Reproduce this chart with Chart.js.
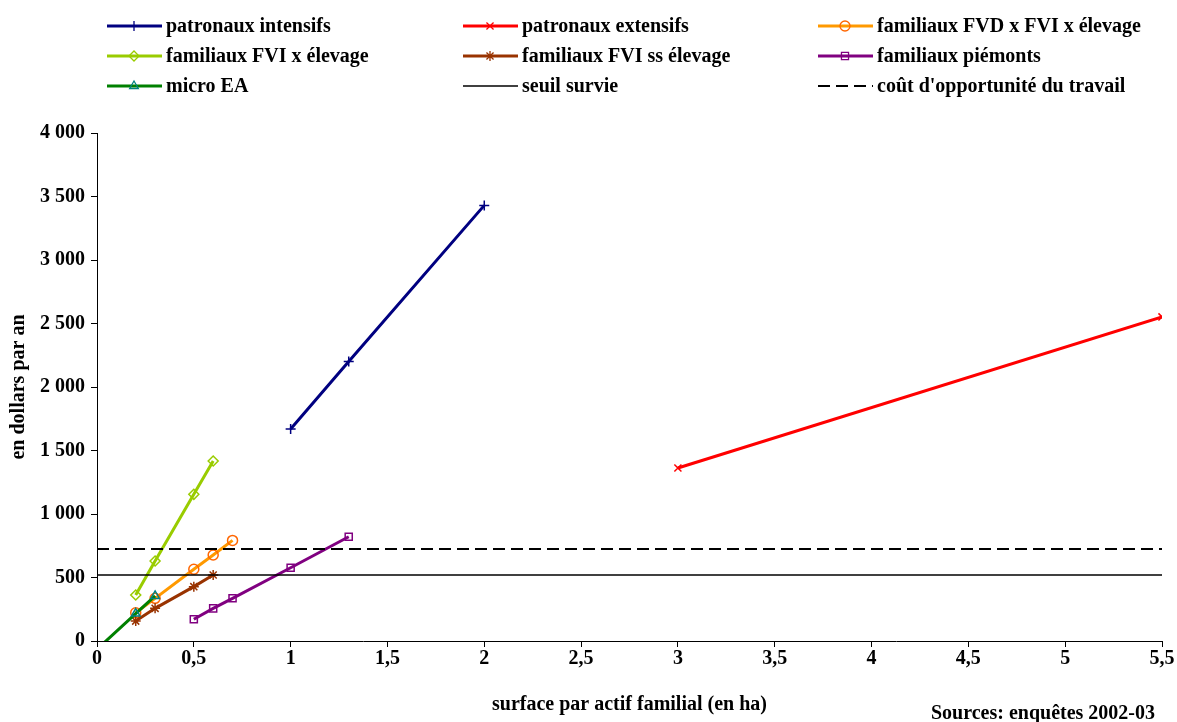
<!DOCTYPE html>
<html>
<head>
<meta charset="utf-8">
<script src="https://cdn.jsdelivr.net/npm/chart.js@4/dist/chart.umd.min.js"></script>
<style>
  body { margin: 0; background: #fff; }
  #wrap { width: 1177px; height: 722px; }
</style>
</head>
<body>
<div id="wrap"><canvas id="graph" width="1177" height="722"></canvas></div>
<script>
// surface par actif familial (ha) / revenu (dollars par an)
const intensifsX = [1, 1.3, 2];
const intensifsY = [1670, 2200, 3430];
const extensifsX = [3, 5.5];
const extensifsY = [1362, 2552];
const fvdX = [0.2, 0.3, 0.5, 0.6, 0.7];
const fvdY = [222, 336, 565, 677, 792];
const fviElevX = [0.2, 0.3, 0.5, 0.6];
const fviElevY = [362, 630, 1155, 1417];
const fviSsX = [0.2, 0.3, 0.5, 0.6];
const fviSsY = [157, 257, 428, 520];
const piemontsX = [0.5, 0.6, 0.7, 1, 1.3];
const piemontsY = [171, 257, 336, 577, 821];
const microX = [0, 0.2, 0.3];
const microY = [-65, 216, 355];
const seuilX = [0, 5.5];
const seuilY = [520, 520];
const coutX = [0, 5.5];
const coutY = [725, 725];

const FONT = "'Liberation Serif', 'Times New Roman', serif";

function pts(xs, ys) {
  return xs.map((x, i) => ({ x: x, y: ys[i] }));
}

function series(label, xs, ys, color, markColor, style, order) {
  return {
    label: label,
    data: pts(xs, ys),
    borderColor: color,
    borderWidth: 3,
    pointStyle: style,
    pointRadius: style ? 5 : 0,
    pointBorderColor: markColor,
    pointBackgroundColor: 'rgba(0,0,0,0)',
    pointBorderWidth: 1.5,
    order: order,
    clip: 0
  };
}

const datasets = [
  series('patronaux intensifs', intensifsX, intensifsY, '#000080', '#000080', 'cross', 9),
  series('patronaux extensifs', extensifsX, extensifsY, '#ff0000', '#ff0000', 'crossRot', 8),
  series('familiaux FVD x FVI x élevage', fvdX, fvdY, '#ff9900', '#ff6600', 'circle', 7),
  series('familiaux FVI x élevage', fviElevX, fviElevY, '#99cc00', '#99cc00', 'rectRot', 6),
  series('familiaux FVI ss élevage', fviSsX, fviSsY, '#993300', '#993300', 'star', 5),
  series('familiaux piémonts', piemontsX, piemontsY, '#800080', '#800080', 'rect', 4),
  series('micro EA', microX, microY, '#008000', '#008080', 'triangle', 3),
  series('seuil survie', seuilX, seuilY, '#000000', '#000000', false, 2),
  series("coût d'opportunité du travail", coutX, coutY, '#000000', '#000000', false, 1)
];
datasets[7].borderWidth = 1.5;
datasets[8].borderWidth = 2;
datasets[8].borderDash = [12, 6];

// legend in three columns, like the original
const legendCols = [107, 463, 818];
const legendRows = [26, 56, 86];

const gridLegend = {
  id: 'gridLegend',
  afterDraw(chart) {
    const ctx = chart.ctx;
    ctx.save();
    chart.data.datasets.forEach((ds, i) => {
      const x = legendCols[i % 3];
      const y = legendRows[Math.floor(i / 3)];
      ctx.strokeStyle = ds.borderColor;
      ctx.lineWidth = ds.borderWidth;
      ctx.setLineDash(ds.borderDash || []);
      ctx.beginPath();
      ctx.moveTo(x, y);
      ctx.lineTo(x + 55, y);
      ctx.stroke();
      ctx.setLineDash([]);
      if (ds.pointStyle) {
        ctx.strokeStyle = ds.pointBorderColor;
        ctx.fillStyle = 'rgba(0,0,0,0)';
        ctx.lineWidth = 1.3;
        Chart.helpers.drawPoint(ctx, {
          pointStyle: ds.pointStyle, radius: 5, rotation: 0, borderWidth: 1.3
        }, x + 27, y);
      }
      ctx.fillStyle = '#000';
      ctx.font = 'bold 20px ' + FONT;
      ctx.textAlign = 'left';
      ctx.textBaseline = 'middle';
      ctx.fillText(ds.label, x + 59, y + 1);
    });
    ctx.font = 'bold 20px ' + FONT;
    ctx.textAlign = 'right';
    ctx.fillText('Sources: enquêtes 2002-03', 1155, 714);
    ctx.restore();
  }
};

const bg = {
  id: 'bg',
  beforeDraw(chart) {
    const ctx = chart.ctx;
    ctx.save();
    ctx.fillStyle = '#fff';
    ctx.fillRect(0, 0, chart.width, chart.height);
    ctx.restore();
  }
};

new Chart(document.getElementById('graph').getContext('2d'), {
  type: 'line',
  data: { datasets },
  plugins: [bg, gridLegend],
  options: {
    responsive: false,
    animation: false,
    layout: { padding: { top: 133, right: 15, left: 0, bottom: 0 } },
    plugins: { legend: { display: false }, tooltip: { enabled: false } },
    scales: {
      x: {
        type: 'linear',
        min: 0,
        max: 5.5,
        afterFit(scale) { scale.height = 81; },
        ticks: {
          stepSize: 0.5,
          color: '#000',
          padding: 0,
          font: { family: FONT, size: 20, weight: 'bold' },
          callback: v => String(v).replace('.', ',')
        },
        grid: { drawOnChartArea: false, drawTicks: true, tickLength: 6, color: '#000' },
        border: { color: '#000', width: 1 },
        title: {
          display: true,
          text: 'surface par actif familial (en ha)',
          color: '#000',
          font: { family: FONT, size: 20, weight: 'bold' },
          padding: { top: 0, bottom: 5 }
        }
      },
      y: {
        min: 0,
        max: 4000,
        afterFit(scale) { scale.width = 97; },
        ticks: {
          stepSize: 500,
          color: '#000',
          padding: 6,
          font: { family: FONT, size: 20, weight: 'bold' },
          callback: v => String(v).replace(/\B(?=(\d{3})+(?!\d))/g, ' ')
        },
        grid: { drawOnChartArea: false, drawTicks: true, tickLength: 6, color: '#000' },
        border: { color: '#000', width: 1 },
        title: {
          display: true,
          text: 'en dollars par an',
          color: '#000',
          font: { family: FONT, size: 20, weight: 'bold' },
          padding: { top: 7, bottom: 0 }
        }
      }
    }
  }
});
</script>
</body>
</html>
